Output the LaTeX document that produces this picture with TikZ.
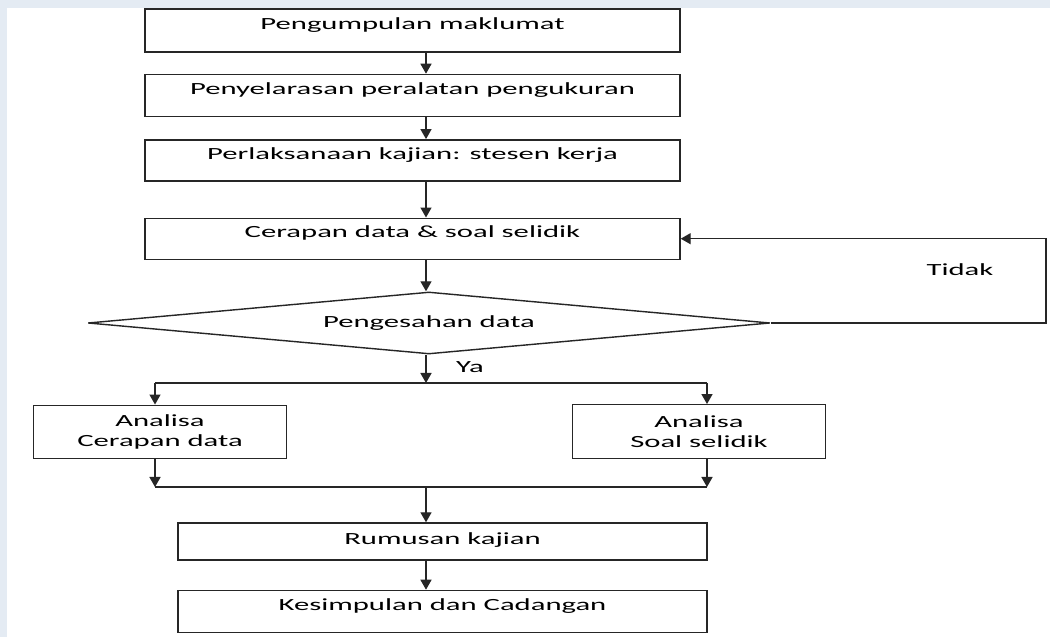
\documentclass[tikz,border=0pt]{standalone}
\usepackage{fontspec}
\setmainfont[FakeStretch=1.8]{Carlito}
\usepackage{tikz}
\usetikzlibrary{arrows.meta,positioning,shapes.geometric}
\definecolor{pagebg}{HTML}{E4EBF3}

\begin{document}
\begin{tikzpicture}[
  stepbox/.style={draw=black!85, line width=0.8pt, minimum width=10.7cm, minimum height=0.84cm, text depth=0.27cm, align=center},
  anbox/.style={draw=black!85, line width=0.8pt, minimum width=5.06cm, minimum height=1.07cm, align=center},
  decision/.style={draw=black!85, line width=0.8pt, diamond, shape aspect=11, minimum width=13.64cm, minimum height=1.24cm, inner sep=1pt},
  arrow/.style={-{Triangle[length=2mm,width=2.2mm]}, draw=black!85, line width=0.8pt},
  line/.style={draw=black!85, line width=0.8pt},
  font=\fontsize{9.7}{11.5}\selectfont
]
\fill[pagebg] (0,0) rectangle (21,-12.74);
\fill[white] (0.14,-0.16) rectangle (21,-12.74);
\useasboundingbox (0,0) rectangle (21,-12.74);

\node[stepbox, minimum height=0.86cm] (collect) at (8.25,-0.61) {Pengumpulan maklumat};
\node[stepbox, below=0.42cm of collect] (calib) {Penyelarasan peralatan pengukuran};
\node[stepbox, minimum height=0.82cm, below=0.44cm of calib] (study) {Perlaksanaan kajian: stesen kerja};
\node[stepbox, minimum height=0.82cm, below=0.72cm of study] (gather) {Cerapan data \& soal selidik};
\node[decision] (valid) at (8.58,-6.46) {Pengesahan data};
\node (yes) at (9.4,-7.34) {Ya};
\node (no) at (19.2,-5.4) {Tidak};
\node[anbox] (anaData) at (3.2,-8.64) {Analisa\\Cerapan data};
\node[anbox] (anaSurvey) at (13.98,-8.63) {Analisa\\Soal selidik};
\node[stepbox, minimum width=10.58cm, minimum height=0.74cm, text depth=0.1cm] (summary) at (8.85,-10.83) {Rumusan kajian};
\node[stepbox, minimum width=10.58cm, below=0.58cm of summary] (concl) {Kesimpulan dan Cadangan};

\coordinate (spine) at (8.52,0);
\coordinate (fb) at (20.92,0);
\coordinate (split) at (8.52,-7.66);
\coordinate (splitL) at (3.1,-7.66);
\coordinate (splitR) at (14.14,-7.66);
\coordinate (merge) at (8.52,-9.74);
\coordinate (mergeL) at (3.1,-9.74);
\coordinate (mergeR) at (14.14,-9.74);

\draw[arrow] (collect.south -| spine) -- (calib.north -| spine);
\draw[arrow] (calib.south -| spine) -- (study.north -| spine);
\draw[arrow] (study.south -| spine) -- (gather.north -| spine);
\draw[arrow] (gather.south -| spine) -- (valid.north -| spine);
\draw[arrow] (valid.east) -- (valid.east -| fb) |- (gather.east);
\draw[arrow] (valid.south -| spine) -- (split);
\draw[line] (splitL) -- (splitR);
\draw[arrow] (splitL) -- (splitL |- anaData.north);
\draw[arrow] (splitR) -- (splitR |- anaSurvey.north);
\draw[arrow] (anaData.south -| mergeL) -- (mergeL);
\draw[arrow] (anaSurvey.south -| mergeR) -- (mergeR);
\draw[line] (mergeL) -- (mergeR);
\draw[arrow] (merge) -- (summary.north -| merge);
\draw[arrow] (summary.south -| spine) -- (concl.north -| spine);
\end{tikzpicture}
\end{document}
